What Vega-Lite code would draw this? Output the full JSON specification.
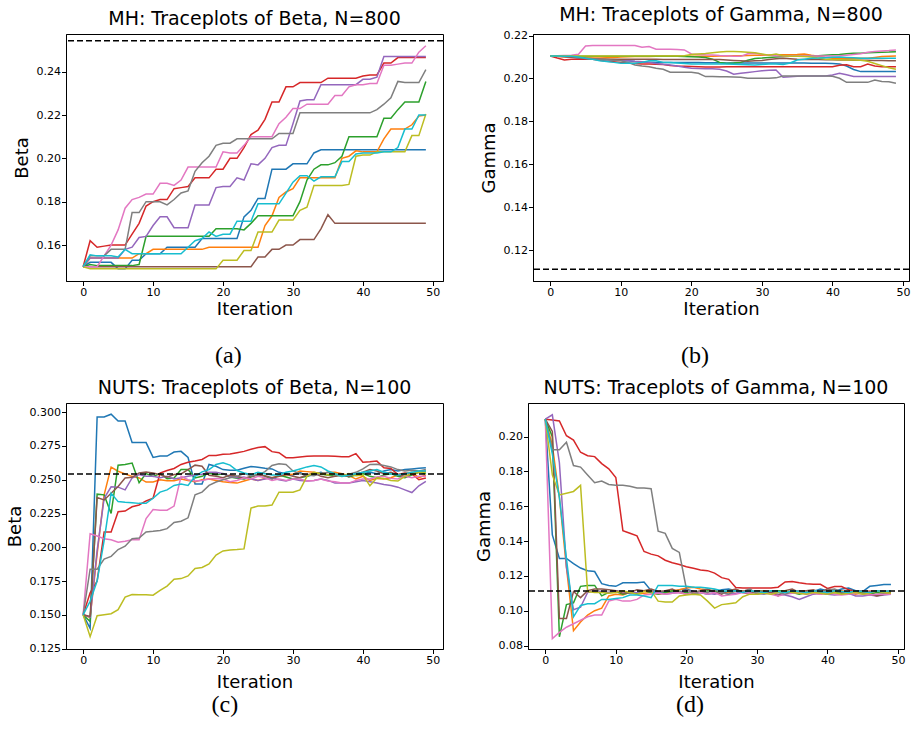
{
"$schema":"https://vega.github.io/schema/vega-lite/v6.json",
"background":"white",
"padding":{"left":5,"top":5,"right":0,"bottom":0},
"config":{
 "font":"DejaVu Sans",
 "view":{"stroke":"black","strokeWidth":1},
 "axis":{"grid":false,"domainColor":"black","tickColor":"black","labelColor":"black","titleColor":"black","labelFontSize":11,"titleFontSize":18,"titleFontWeight":"normal","tickSize":4.5,"labelPadding":1,"labelFlush":false,"labelOverlap":false,"tickCount":12},
 "axisX":{"titlePadding":3},
 "axisY":{"titlePadding":5},
 "title":{"fontSize":19,"fontWeight":"normal","color":"black"}
},
"datasets":{
"a":[
{"i":0,"a":0.15,"b":0.15,"c":0.15,"d":0.15,"e":0.15,"f":0.15,"g":0.15,"h":0.15,"k":0.15,"j":0.15},
{"i":1,"a":0.152,"b":0.154,"c":0.151,"d":0.162,"e":0.154,"f":0.15,"g":0.15,"h":0.155,"k":0.149,"j":0.1555},
{"i":2,"a":0.152,"b":0.154,"c":0.1505,"d":0.159,"e":0.154,"f":0.15,"g":0.15,"h":0.155,"k":0.149,"j":0.155},
{"i":3,"a":0.152,"b":0.154,"c":0.1505,"d":0.1595,"e":0.154,"f":0.15,"g":0.155,"h":0.155,"k":0.149,"j":0.155},
{"i":4,"a":0.152,"b":0.154,"c":0.1505,"d":0.16,"e":0.154,"f":0.15,"g":0.16,"h":0.158,"k":0.149,"j":0.155},
{"i":5,"a":0.149,"b":0.154,"c":0.1505,"d":0.16,"e":0.154,"f":0.15,"g":0.167,"h":0.158,"k":0.149,"j":0.1545},
{"i":6,"a":0.149,"b":0.154,"c":0.1505,"d":0.16,"e":0.158,"f":0.15,"g":0.177,"h":0.158,"k":0.149,"j":0.158},
{"i":7,"a":0.153,"b":0.154,"c":0.1505,"d":0.165,"e":0.159,"f":0.15,"g":0.181,"h":0.175,"k":0.149,"j":0.156},
{"i":8,"a":0.153,"b":0.156,"c":0.151,"d":0.17,"e":0.1635,"f":0.15,"g":0.182,"h":0.175,"k":0.149,"j":0.156},
{"i":9,"a":0.156,"b":0.156,"c":0.164,"d":0.178,"e":0.164,"f":0.15,"g":0.1835,"h":0.18,"k":0.149,"j":0.156},
{"i":10,"a":0.156,"b":0.158,"c":0.164,"d":0.18,"e":0.169,"f":0.15,"g":0.1835,"h":0.18,"k":0.149,"j":0.156},
{"i":11,"a":0.156,"b":0.158,"c":0.164,"d":0.181,"e":0.173,"f":0.15,"g":0.1885,"h":0.18,"k":0.149,"j":0.156},
{"i":12,"a":0.159,"b":0.158,"c":0.164,"d":0.181,"e":0.173,"f":0.15,"g":0.1885,"h":0.1785,"k":0.149,"j":0.156},
{"i":13,"a":0.159,"b":0.158,"c":0.164,"d":0.186,"e":0.168,"f":0.15,"g":0.1875,"h":0.181,"k":0.149,"j":0.156},
{"i":14,"a":0.159,"b":0.158,"c":0.164,"d":0.1865,"e":0.168,"f":0.15,"g":0.19,"h":0.184,"k":0.149,"j":0.156},
{"i":15,"a":0.159,"b":0.158,"c":0.164,"d":0.187,"e":0.168,"f":0.15,"g":0.196,"h":0.185,"k":0.149,"j":0.159},
{"i":16,"a":0.159,"b":0.158,"c":0.164,"d":0.191,"e":0.1785,"f":0.15,"g":0.196,"h":0.194,"k":0.149,"j":0.162},
{"i":17,"a":0.163,"b":0.158,"c":0.164,"d":0.191,"e":0.1785,"f":0.15,"g":0.196,"h":0.198,"k":0.149,"j":0.163},
{"i":18,"a":0.163,"b":0.159,"c":0.164,"d":0.191,"e":0.1785,"f":0.15,"g":0.196,"h":0.201,"k":0.149,"j":0.166},
{"i":19,"a":0.163,"b":0.159,"c":0.1675,"d":0.195,"e":0.1865,"f":0.15,"g":0.196,"h":0.206,"k":0.149,"j":0.164},
{"i":20,"a":0.163,"b":0.159,"c":0.1675,"d":0.195,"e":0.187,"f":0.15,"g":0.203,"h":0.207,"k":0.153,"j":0.165},
{"i":21,"a":0.163,"b":0.159,"c":0.1675,"d":0.2,"e":0.187,"f":0.15,"g":0.2025,"h":0.207,"k":0.153,"j":0.165},
{"i":22,"a":0.163,"b":0.159,"c":0.1675,"d":0.2,"e":0.191,"f":0.15,"g":0.2025,"h":0.209,"k":0.153,"j":0.171},
{"i":23,"a":0.173,"b":0.159,"c":0.167,"d":0.205,"e":0.19,"f":0.15,"g":0.206,"h":0.209,"k":0.1575,"j":0.171},
{"i":24,"a":0.176,"b":0.159,"c":0.17,"d":0.211,"e":0.1975,"f":0.15,"g":0.21,"h":0.209,"k":0.1575,"j":0.171},
{"i":25,"a":0.1815,"b":0.159,"c":0.1735,"d":0.213,"e":0.197,"f":0.1545,"g":0.21,"h":0.209,"k":0.166,"j":0.179},
{"i":26,"a":0.1815,"b":0.169,"c":0.1735,"d":0.218,"e":0.2,"f":0.1545,"g":0.21,"h":0.209,"k":0.166,"j":0.179},
{"i":27,"a":0.195,"b":0.1735,"c":0.1735,"d":0.226,"e":0.205,"f":0.158,"g":0.21,"h":0.209,"k":0.166,"j":0.179},
{"i":28,"a":0.195,"b":0.182,"c":0.1735,"d":0.226,"e":0.206,"f":0.158,"g":0.216,"h":0.2115,"k":0.1715,"j":0.179},
{"i":29,"a":0.195,"b":0.1845,"c":0.1735,"d":0.233,"e":0.206,"f":0.16,"g":0.219,"h":0.2115,"k":0.1715,"j":0.184},
{"i":30,"a":0.1975,"b":0.186,"c":0.1735,"d":0.233,"e":0.216,"f":0.16,"g":0.223,"h":0.2115,"k":0.1715,"j":0.189},
{"i":31,"a":0.1975,"b":0.191,"c":0.18,"d":0.235,"e":0.2265,"f":0.1625,"g":0.223,"h":0.221,"k":0.176,"j":0.192},
{"i":32,"a":0.1975,"b":0.191,"c":0.19,"d":0.235,"e":0.227,"f":0.1625,"g":0.225,"h":0.221,"k":0.1775,"j":0.192},
{"i":33,"a":0.2025,"b":0.191,"c":0.195,"d":0.235,"e":0.227,"f":0.1625,"g":0.225,"h":0.221,"k":0.1875,"j":0.1895},
{"i":34,"a":0.204,"b":0.191,"c":0.197,"d":0.235,"e":0.234,"f":0.1675,"g":0.225,"h":0.221,"k":0.1875,"j":0.1915},
{"i":35,"a":0.204,"b":0.191,"c":0.197,"d":0.237,"e":0.234,"f":0.174,"g":0.225,"h":0.221,"k":0.1875,"j":0.1915},
{"i":36,"a":0.204,"b":0.191,"c":0.198,"d":0.237,"e":0.234,"f":0.17,"g":0.229,"h":0.221,"k":0.1875,"j":0.1915},
{"i":37,"a":0.204,"b":0.2,"c":0.201,"d":0.237,"e":0.234,"f":0.17,"g":0.229,"h":0.221,"k":0.1875,"j":0.1985},
{"i":38,"a":0.204,"b":0.201,"c":0.21,"d":0.237,"e":0.234,"f":0.17,"g":0.233,"h":0.221,"k":0.188,"j":0.1985},
{"i":39,"a":0.204,"b":0.2035,"c":0.21,"d":0.237,"e":0.234,"f":0.17,"g":0.234,"h":0.221,"k":0.201,"j":0.202},
{"i":40,"a":0.204,"b":0.203,"c":0.21,"d":0.238,"e":0.2365,"f":0.17,"g":0.234,"h":0.221,"k":0.2015,"j":0.2025},
{"i":41,"a":0.204,"b":0.203,"c":0.21,"d":0.2385,"e":0.2365,"f":0.17,"g":0.2345,"h":0.221,"k":0.2015,"j":0.2025},
{"i":42,"a":0.204,"b":0.203,"c":0.21,"d":0.2385,"e":0.2375,"f":0.17,"g":0.2345,"h":0.2225,"k":0.203,"j":0.2025},
{"i":43,"a":0.204,"b":0.209,"c":0.2185,"d":0.244,"e":0.247,"f":0.17,"g":0.243,"h":0.225,"k":0.203,"j":0.203},
{"i":44,"a":0.204,"b":0.2135,"c":0.2185,"d":0.244,"e":0.247,"f":0.17,"g":0.243,"h":0.228,"k":0.203,"j":0.203},
{"i":45,"a":0.204,"b":0.2135,"c":0.2225,"d":0.2465,"e":0.247,"f":0.17,"g":0.2435,"h":0.2355,"k":0.203,"j":0.205},
{"i":46,"a":0.204,"b":0.2135,"c":0.226,"d":0.2465,"e":0.247,"f":0.17,"g":0.244,"h":0.235,"k":0.203,"j":0.2135},
{"i":47,"a":0.204,"b":0.2155,"c":0.226,"d":0.2465,"e":0.247,"f":0.17,"g":0.244,"h":0.235,"k":0.2105,"j":0.2135},
{"i":48,"a":0.204,"b":0.2195,"c":0.226,"d":0.2465,"e":0.247,"f":0.17,"g":0.249,"h":0.235,"k":0.2105,"j":0.22},
{"i":49,"a":0.204,"b":0.22,"c":0.2355,"d":0.2465,"e":0.247,"f":0.17,"g":0.252,"h":0.241,"k":0.2205,"j":0.22}
],
"b":[
{"i":0,"a":0.2105,"b":0.2105,"c":0.2105,"d":0.2105,"e":0.2105,"f":0.2105,"g":0.2105,"h":0.2105,"k":0.2105,"j":0.2105},
{"i":1,"a":0.2104,"b":0.2103,"c":0.2104,"d":0.2095,"e":0.2104,"f":0.2104,"g":0.2106,"h":0.2105,"k":0.2105,"j":0.2105},
{"i":2,"a":0.2103,"b":0.21,"c":0.2104,"d":0.2086,"e":0.2102,"f":0.2102,"g":0.2107,"h":0.2104,"k":0.2105,"j":0.2104},
{"i":3,"a":0.21,"b":0.2099,"c":0.2104,"d":0.2089,"e":0.2099,"f":0.2099,"g":0.2108,"h":0.2102,"k":0.2105,"j":0.2103},
{"i":4,"a":0.2097,"b":0.2098,"c":0.2104,"d":0.2089,"e":0.2096,"f":0.2096,"g":0.2113,"h":0.2098,"k":0.2105,"j":0.21},
{"i":5,"a":0.2095,"b":0.2096,"c":0.2104,"d":0.209,"e":0.2093,"f":0.2093,"g":0.2151,"h":0.2094,"k":0.2105,"j":0.2094},
{"i":6,"a":0.2093,"b":0.2095,"c":0.2103,"d":0.209,"e":0.209,"f":0.2091,"g":0.2153,"h":0.2092,"k":0.2105,"j":0.2089},
{"i":7,"a":0.209,"b":0.2095,"c":0.2103,"d":0.2085,"e":0.2089,"f":0.209,"g":0.2153,"h":0.2089,"k":0.2105,"j":0.2083},
{"i":8,"a":0.2088,"b":0.2097,"c":0.2103,"d":0.208,"e":0.2087,"f":0.209,"g":0.2153,"h":0.2087,"k":0.2105,"j":0.2079},
{"i":9,"a":0.2086,"b":0.2098,"c":0.2103,"d":0.2078,"e":0.2086,"f":0.209,"g":0.2154,"h":0.2085,"k":0.2105,"j":0.2075},
{"i":10,"a":0.2085,"b":0.21,"c":0.2103,"d":0.2075,"e":0.2085,"f":0.209,"g":0.2154,"h":0.2083,"k":0.2105,"j":0.2071},
{"i":11,"a":0.2082,"b":0.2101,"c":0.2103,"d":0.2072,"e":0.2083,"f":0.2089,"g":0.2153,"h":0.2075,"k":0.2105,"j":0.2071},
{"i":12,"a":0.2079,"b":0.2102,"c":0.2103,"d":0.207,"e":0.208,"f":0.2089,"g":0.2153,"h":0.2063,"k":0.2105,"j":0.2071},
{"i":13,"a":0.2077,"b":0.2102,"c":0.2103,"d":0.2068,"e":0.2078,"f":0.2089,"g":0.2145,"h":0.2058,"k":0.2105,"j":0.2075},
{"i":14,"a":0.2076,"b":0.2102,"c":0.2103,"d":0.2068,"e":0.2075,"f":0.2089,"g":0.2149,"h":0.2055,"k":0.2105,"j":0.2083},
{"i":15,"a":0.2075,"b":0.2103,"c":0.2103,"d":0.2066,"e":0.207,"f":0.2089,"g":0.2136,"h":0.2048,"k":0.2105,"j":0.2083},
{"i":16,"a":0.2075,"b":0.2103,"c":0.2103,"d":0.2065,"e":0.2066,"f":0.2088,"g":0.2136,"h":0.2043,"k":0.2105,"j":0.2075},
{"i":17,"a":0.2075,"b":0.2103,"c":0.2103,"d":0.206,"e":0.2063,"f":0.2088,"g":0.2136,"h":0.2029,"k":0.2105,"j":0.2074},
{"i":18,"a":0.2074,"b":0.2103,"c":0.2103,"d":0.2058,"e":0.2058,"f":0.2088,"g":0.2135,"h":0.2029,"k":0.2105,"j":0.2072},
{"i":19,"a":0.2074,"b":0.2103,"c":0.2102,"d":0.2057,"e":0.2052,"f":0.2088,"g":0.2133,"h":0.2029,"k":0.2106,"j":0.207},
{"i":20,"a":0.2074,"b":0.2103,"c":0.2101,"d":0.2056,"e":0.2048,"f":0.2088,"g":0.2114,"h":0.2029,"k":0.2112,"j":0.2068},
{"i":21,"a":0.2074,"b":0.2104,"c":0.21,"d":0.2055,"e":0.2046,"f":0.2088,"g":0.2112,"h":0.2024,"k":0.2114,"j":0.2068},
{"i":22,"a":0.2073,"b":0.2104,"c":0.2098,"d":0.2053,"e":0.2045,"f":0.2088,"g":0.211,"h":0.2009,"k":0.2116,"j":0.2068},
{"i":23,"a":0.2073,"b":0.2104,"c":0.209,"d":0.2053,"e":0.2045,"f":0.2088,"g":0.2109,"h":0.2009,"k":0.212,"j":0.2068},
{"i":24,"a":0.2073,"b":0.2105,"c":0.2075,"d":0.2053,"e":0.2043,"f":0.2088,"g":0.2107,"h":0.2008,"k":0.2123,"j":0.2068},
{"i":25,"a":0.2072,"b":0.2105,"c":0.207,"d":0.2055,"e":0.2035,"f":0.2086,"g":0.2106,"h":0.2008,"k":0.2126,"j":0.2067},
{"i":26,"a":0.2072,"b":0.2106,"c":0.2072,"d":0.2055,"e":0.202,"f":0.2084,"g":0.2103,"h":0.2007,"k":0.2126,"j":0.2066},
{"i":27,"a":0.2072,"b":0.2106,"c":0.2075,"d":0.2055,"e":0.2024,"f":0.2082,"g":0.2103,"h":0.2006,"k":0.2124,"j":0.2065},
{"i":28,"a":0.2072,"b":0.2107,"c":0.2085,"d":0.2055,"e":0.2028,"f":0.208,"g":0.2115,"h":0.2001,"k":0.2122,"j":0.2064},
{"i":29,"a":0.2072,"b":0.2108,"c":0.2093,"d":0.2055,"e":0.2032,"f":0.2082,"g":0.2117,"h":0.2001,"k":0.212,"j":0.2063},
{"i":30,"a":0.2072,"b":0.2108,"c":0.2095,"d":0.2055,"e":0.2036,"f":0.2084,"g":0.2112,"h":0.2001,"k":0.2114,"j":0.2065},
{"i":31,"a":0.2072,"b":0.2109,"c":0.2098,"d":0.2055,"e":0.2038,"f":0.2088,"g":0.2108,"h":0.2001,"k":0.2108,"j":0.2068},
{"i":32,"a":0.2072,"b":0.211,"c":0.21,"d":0.2055,"e":0.204,"f":0.2092,"g":0.2106,"h":0.2003,"k":0.2114,"j":0.2067},
{"i":33,"a":0.2072,"b":0.211,"c":0.2102,"d":0.2055,"e":0.2006,"f":0.2094,"g":0.2105,"h":0.2012,"k":0.2106,"j":0.2065},
{"i":34,"a":0.2072,"b":0.2111,"c":0.2104,"d":0.2055,"e":0.2008,"f":0.2092,"g":0.2105,"h":0.2012,"k":0.2103,"j":0.2072},
{"i":35,"a":0.2072,"b":0.2112,"c":0.2104,"d":0.2055,"e":0.2011,"f":0.2089,"g":0.2105,"h":0.2012,"k":0.2104,"j":0.2086},
{"i":36,"a":0.2072,"b":0.2114,"c":0.2104,"d":0.2055,"e":0.2012,"f":0.2088,"g":0.2105,"h":0.2012,"k":0.2102,"j":0.209},
{"i":37,"a":0.2071,"b":0.2108,"c":0.2105,"d":0.2055,"e":0.2012,"f":0.2088,"g":0.2105,"h":0.2012,"k":0.21,"j":0.2094},
{"i":38,"a":0.2071,"b":0.2103,"c":0.2106,"d":0.2055,"e":0.2012,"f":0.2088,"g":0.2105,"h":0.2012,"k":0.2095,"j":0.2095},
{"i":39,"a":0.2071,"b":0.2098,"c":0.2108,"d":0.2055,"e":0.2012,"f":0.2087,"g":0.2105,"h":0.2012,"k":0.209,"j":0.2097},
{"i":40,"a":0.207,"b":0.2094,"c":0.211,"d":0.2055,"e":0.2016,"f":0.2087,"g":0.2105,"h":0.201,"k":0.2088,"j":0.2099},
{"i":41,"a":0.2068,"b":0.2094,"c":0.2112,"d":0.2062,"e":0.2024,"f":0.2086,"g":0.2106,"h":0.2001,"k":0.2087,"j":0.21},
{"i":42,"a":0.2058,"b":0.2094,"c":0.2115,"d":0.2064,"e":0.2017,"f":0.2086,"g":0.2108,"h":0.1982,"k":0.2086,"j":0.2098},
{"i":43,"a":0.2042,"b":0.2094,"c":0.2117,"d":0.2055,"e":0.2009,"f":0.2085,"g":0.2112,"h":0.1982,"k":0.2086,"j":0.2096},
{"i":44,"a":0.2032,"b":0.2094,"c":0.2118,"d":0.2055,"e":0.2009,"f":0.2085,"g":0.2115,"h":0.1982,"k":0.2085,"j":0.2094},
{"i":45,"a":0.2032,"b":0.2094,"c":0.212,"d":0.2067,"e":0.2009,"f":0.2085,"g":0.2122,"h":0.1982,"k":0.208,"j":0.2094},
{"i":46,"a":0.2032,"b":0.2098,"c":0.2121,"d":0.2058,"e":0.2009,"f":0.2084,"g":0.2126,"h":0.1993,"k":0.207,"j":0.2094},
{"i":47,"a":0.2032,"b":0.2102,"c":0.2122,"d":0.2055,"e":0.2009,"f":0.2084,"g":0.2128,"h":0.1986,"k":0.206,"j":0.2094},
{"i":48,"a":0.2032,"b":0.2104,"c":0.2123,"d":0.2055,"e":0.2009,"f":0.2083,"g":0.213,"h":0.1985,"k":0.205,"j":0.2094},
{"i":49,"a":0.2032,"b":0.2105,"c":0.2125,"d":0.2055,"e":0.2009,"f":0.2083,"g":0.2133,"h":0.1978,"k":0.2043,"j":0.2094}
],
"c":[
{"i":0,"a":0.15,"b":0.15,"c":0.15,"d":0.15,"e":0.15,"f":0.15,"g":0.15,"h":0.15,"k":0.15,"j":0.15},
{"i":1,"a":0.14,"b":0.148,"c":0.145,"d":0.1663,"e":0.1483,"f":0.1488,"g":0.21,"h":0.1838,"k":0.1338,"j":0.16},
{"i":2,"a":0.2965,"b":0.195,"c":0.2393,"d":0.175,"e":0.1975,"f":0.2368,"g":0.2083,"h":0.1838,"k":0.1493,"j":0.175},
{"i":3,"a":0.2965,"b":0.2388,"c":0.2388,"d":0.2113,"e":0.2363,"f":0.235,"g":0.2063,"h":0.1913,"k":0.15,"j":0.205},
{"i":4,"a":0.2985,"b":0.2593,"c":0.225,"d":0.2113,"e":0.2448,"f":0.24,"g":0.2055,"h":0.1933,"k":0.1508,"j":0.24},
{"i":5,"a":0.2935,"b":0.2563,"c":0.2608,"d":0.2263,"e":0.2445,"f":0.245,"g":0.2038,"h":0.1983,"k":0.1538,"j":0.2338},
{"i":6,"a":0.2935,"b":0.2543,"c":0.2613,"d":0.2268,"e":0.2425,"f":0.2513,"g":0.2045,"h":0.2008,"k":0.1631,"j":0.2333},
{"i":7,"a":0.2775,"b":0.2525,"c":0.2623,"d":0.23,"e":0.2513,"f":0.2518,"g":0.2055,"h":0.2063,"k":0.165,"j":0.233},
{"i":8,"a":0.2775,"b":0.2513,"c":0.2478,"d":0.2313,"e":0.2538,"f":0.255,"g":0.2055,"h":0.2068,"k":0.1648,"j":0.2325},
{"i":9,"a":0.2775,"b":0.2483,"c":0.2545,"d":0.2343,"e":0.2525,"f":0.2558,"g":0.2213,"h":0.2113,"k":0.1648,"j":0.2325},
{"i":10,"a":0.2665,"b":0.2483,"c":0.2525,"d":0.2363,"e":0.2525,"f":0.255,"g":0.228,"h":0.2118,"k":0.1645,"j":0.2363},
{"i":11,"a":0.2675,"b":0.25,"c":0.2545,"d":0.255,"e":0.2515,"f":0.2538,"g":0.2275,"h":0.2125,"k":0.1681,"j":0.2408},
{"i":12,"a":0.2675,"b":0.2493,"c":0.2508,"d":0.2568,"e":0.2525,"f":0.2518,"g":0.2275,"h":0.2138,"k":0.1713,"j":0.2425},
{"i":13,"a":0.2705,"b":0.2493,"c":0.2513,"d":0.2583,"e":0.2505,"f":0.2538,"g":0.2305,"h":0.2183,"k":0.1763,"j":0.2458},
{"i":14,"a":0.271,"b":0.2505,"c":0.2575,"d":0.2613,"e":0.2515,"f":0.2543,"g":0.2525,"h":0.2193,"k":0.1768,"j":0.2468},
{"i":15,"a":0.2665,"b":0.2495,"c":0.2575,"d":0.263,"e":0.2525,"f":0.2575,"g":0.25,"h":0.2218,"k":0.1788,"j":0.2458},
{"i":16,"a":0.2468,"b":0.2485,"c":0.2513,"d":0.2638,"e":0.2535,"f":0.2608,"g":0.249,"h":0.2388,"k":0.1843,"j":0.2525},
{"i":17,"a":0.2468,"b":0.25,"c":0.2525,"d":0.265,"e":0.254,"f":0.26,"g":0.2495,"h":0.2408,"k":0.185,"j":0.2558},
{"i":18,"a":0.2613,"b":0.2505,"c":0.255,"d":0.268,"e":0.2555,"f":0.2533,"g":0.2505,"h":0.2458,"k":0.1876,"j":0.2575},
{"i":19,"a":0.26,"b":0.2495,"c":0.2535,"d":0.268,"e":0.2555,"f":0.2525,"g":0.251,"h":0.2483,"k":0.1943,"j":0.2613},
{"i":20,"a":0.2575,"b":0.2485,"c":0.2545,"d":0.2688,"e":0.2545,"f":0.2515,"g":0.2505,"h":0.25,"k":0.1973,"j":0.2625},
{"i":21,"a":0.257,"b":0.248,"c":0.252,"d":0.269,"e":0.2525,"f":0.2535,"g":0.2485,"h":0.2515,"k":0.198,"j":0.2608},
{"i":22,"a":0.257,"b":0.2475,"c":0.251,"d":0.27,"e":0.2515,"f":0.2525,"g":0.2495,"h":0.2525,"k":0.1983,"j":0.2568},
{"i":23,"a":0.2585,"b":0.249,"c":0.2505,"d":0.271,"e":0.252,"f":0.251,"g":0.2515,"h":0.2545,"k":0.1988,"j":0.255},
{"i":24,"a":0.2598,"b":0.2505,"c":0.252,"d":0.2725,"e":0.2505,"f":0.2525,"g":0.2505,"h":0.253,"k":0.229,"j":0.2538},
{"i":25,"a":0.2593,"b":0.2495,"c":0.254,"d":0.2738,"e":0.2495,"f":0.2535,"g":0.2525,"h":0.2535,"k":0.2305,"j":0.2555},
{"i":26,"a":0.2585,"b":0.251,"c":0.2525,"d":0.2745,"e":0.2505,"f":0.253,"g":0.2515,"h":0.256,"k":0.2305,"j":0.2545},
{"i":27,"a":0.258,"b":0.2515,"c":0.2505,"d":0.2708,"e":0.2515,"f":0.2515,"g":0.2495,"h":0.2605,"k":0.2313,"j":0.2535},
{"i":28,"a":0.2555,"b":0.2525,"c":0.2535,"d":0.27,"e":0.25,"f":0.2525,"g":0.2505,"h":0.2618,"k":0.2408,"j":0.2535},
{"i":29,"a":0.2545,"b":0.2535,"c":0.252,"d":0.2663,"e":0.249,"f":0.254,"g":0.2495,"h":0.2613,"k":0.2408,"j":0.2555},
{"i":30,"a":0.2535,"b":0.254,"c":0.2505,"d":0.2663,"e":0.2505,"f":0.2525,"g":0.2505,"h":0.2565,"k":0.2408,"j":0.2565},
{"i":31,"a":0.2555,"b":0.2565,"c":0.2515,"d":0.2668,"e":0.2495,"f":0.2515,"g":0.2505,"h":0.2545,"k":0.2425,"j":0.258},
{"i":32,"a":0.2525,"b":0.256,"c":0.2525,"d":0.2673,"e":0.249,"f":0.2535,"g":0.249,"h":0.2535,"k":0.2525,"j":0.2595},
{"i":33,"a":0.254,"b":0.2555,"c":0.2545,"d":0.2675,"e":0.2495,"f":0.255,"g":0.2495,"h":0.253,"k":0.2555,"j":0.2605},
{"i":34,"a":0.2555,"b":0.2545,"c":0.254,"d":0.2675,"e":0.2505,"f":0.2525,"g":0.2505,"h":0.2545,"k":0.2545,"j":0.2595},
{"i":35,"a":0.2535,"b":0.2555,"c":0.2535,"d":0.2675,"e":0.2495,"f":0.2515,"g":0.249,"h":0.2555,"k":0.2535,"j":0.2565},
{"i":36,"a":0.2545,"b":0.2555,"c":0.2525,"d":0.2673,"e":0.2475,"f":0.2525,"g":0.2485,"h":0.2535,"k":0.2545,"j":0.2545},
{"i":37,"a":0.2535,"b":0.2545,"c":0.254,"d":0.267,"e":0.2475,"f":0.2535,"g":0.2475,"h":0.2525,"k":0.2525,"j":0.2525},
{"i":38,"a":0.2525,"b":0.253,"c":0.252,"d":0.267,"e":0.2475,"f":0.2525,"g":0.2475,"h":0.254,"k":0.2545,"j":0.2535},
{"i":39,"a":0.2545,"b":0.2505,"c":0.2535,"d":0.2693,"e":0.2485,"f":0.2545,"g":0.2495,"h":0.2555,"k":0.253,"j":0.2545},
{"i":40,"a":0.2545,"b":0.2525,"c":0.2545,"d":0.263,"e":0.2495,"f":0.2555,"g":0.2505,"h":0.258,"k":0.2535,"j":0.2555},
{"i":41,"a":0.2555,"b":0.2495,"c":0.2525,"d":0.2633,"e":0.2485,"f":0.2575,"g":0.2505,"h":0.2613,"k":0.2455,"j":0.2565},
{"i":42,"a":0.2545,"b":0.251,"c":0.2515,"d":0.2638,"e":0.2475,"f":0.2565,"g":0.252,"h":0.2615,"k":0.2515,"j":0.2575},
{"i":43,"a":0.2565,"b":0.2505,"c":0.2535,"d":0.2588,"e":0.2465,"f":0.2545,"g":0.2525,"h":0.2605,"k":0.251,"j":0.2555},
{"i":44,"a":0.2575,"b":0.2515,"c":0.2545,"d":0.2583,"e":0.2458,"f":0.2555,"g":0.251,"h":0.2595,"k":0.2495,"j":0.2545},
{"i":45,"a":0.2565,"b":0.2535,"c":0.2525,"d":0.2538,"e":0.2445,"f":0.2535,"g":0.2505,"h":0.2575,"k":0.249,"j":0.2535},
{"i":46,"a":0.2575,"b":0.2545,"c":0.2515,"d":0.255,"e":0.2425,"f":0.2525,"g":0.2525,"h":0.2565,"k":0.2525,"j":0.2545},
{"i":47,"a":0.258,"b":0.2555,"c":0.2535,"d":0.2543,"e":0.2405,"f":0.2545,"g":0.2515,"h":0.257,"k":0.2545,"j":0.2555},
{"i":48,"a":0.2585,"b":0.2515,"c":0.2555,"d":0.25,"e":0.2455,"f":0.2555,"g":0.2525,"h":0.2565,"k":0.2555,"j":0.2565},
{"i":49,"a":0.2588,"b":0.2535,"c":0.2545,"d":0.2513,"e":0.2488,"f":0.2565,"g":0.2525,"h":0.2575,"k":0.2555,"j":0.2565}
],
"d":[
{"i":0,"a":0.21,"b":0.21,"c":0.21,"d":0.21,"e":0.21,"f":0.21,"g":0.21,"h":0.21,"k":0.21,"j":0.21},
{"i":1,"a":0.1435,"b":0.195,"c":0.2,"d":0.2095,"e":0.2125,"f":0.203,"g":0.084,"h":0.1925,"k":0.178,"j":0.19},
{"i":2,"a":0.13,"b":0.165,"c":0.085,"d":0.209,"e":0.185,"f":0.0955,"g":0.0875,"h":0.1925,"k":0.1665,"j":0.165},
{"i":3,"a":0.13,"b":0.125,"c":0.1035,"d":0.2005,"e":0.125,"f":0.0955,"g":0.0905,"h":0.1968,"k":0.1675,"j":0.13},
{"i":4,"a":0.127,"b":0.0885,"c":0.1045,"d":0.198,"e":0.1005,"f":0.111,"g":0.0925,"h":0.1834,"k":0.1685,"j":0.0965},
{"i":5,"a":0.1245,"b":0.0935,"c":0.114,"d":0.191,"e":0.102,"f":0.1075,"g":0.0945,"h":0.1825,"k":0.172,"j":0.103},
{"i":6,"a":0.123,"b":0.0975,"c":0.1145,"d":0.189,"e":0.1105,"f":0.1115,"g":0.0965,"h":0.178,"k":0.111,"j":0.104},
{"i":7,"a":0.1225,"b":0.1,"c":0.1145,"d":0.1885,"e":0.1115,"f":0.1125,"g":0.0975,"h":0.1735,"k":0.1105,"j":0.104},
{"i":8,"a":0.1155,"b":0.1015,"c":0.1085,"d":0.1845,"e":0.111,"f":0.1125,"g":0.0975,"h":0.1745,"k":0.1105,"j":0.1065},
{"i":9,"a":0.1145,"b":0.1085,"c":0.1105,"d":0.1815,"e":0.1105,"f":0.112,"g":0.1055,"h":0.1725,"k":0.11,"j":0.1065},
{"i":10,"a":0.114,"b":0.1095,"c":0.111,"d":0.1765,"e":0.1115,"f":0.1115,"g":0.1065,"h":0.172,"k":0.1105,"j":0.107},
{"i":11,"a":0.116,"b":0.109,"c":0.1095,"d":0.146,"e":0.111,"f":0.11,"g":0.1055,"h":0.172,"k":0.1115,"j":0.1075},
{"i":12,"a":0.116,"b":0.1105,"c":0.1105,"d":0.1445,"e":0.11,"f":0.1105,"g":0.1055,"h":0.1715,"k":0.1105,"j":0.109},
{"i":13,"a":0.116,"b":0.1095,"c":0.11,"d":0.143,"e":0.1105,"f":0.112,"g":0.1065,"h":0.1705,"k":0.1095,"j":0.109},
{"i":14,"a":0.1165,"b":0.11,"c":0.1115,"d":0.134,"e":0.1115,"f":0.1115,"g":0.109,"h":0.1705,"k":0.111,"j":0.1085},
{"i":15,"a":0.1115,"b":0.1105,"c":0.1105,"d":0.1325,"e":0.111,"f":0.1125,"g":0.1095,"h":0.1701,"k":0.1115,"j":0.1075},
{"i":16,"a":0.1105,"b":0.1095,"c":0.1095,"d":0.1315,"e":0.1105,"f":0.111,"g":0.11,"h":0.1457,"k":0.1055,"j":0.1145},
{"i":17,"a":0.111,"b":0.11,"c":0.1105,"d":0.129,"e":0.1095,"f":0.1115,"g":0.1095,"h":0.1444,"k":0.105,"j":0.1145},
{"i":18,"a":0.1105,"b":0.1115,"c":0.1115,"d":0.1275,"e":0.11,"f":0.1125,"g":0.11,"h":0.1358,"k":0.105,"j":0.1145},
{"i":19,"a":0.112,"b":0.112,"c":0.111,"d":0.1265,"e":0.1105,"f":0.1105,"g":0.1105,"h":0.1335,"k":0.1085,"j":0.114},
{"i":20,"a":0.1125,"b":0.113,"c":0.1105,"d":0.1253,"e":0.1115,"f":0.1095,"g":0.1095,"h":0.1126,"k":0.109,"j":0.114},
{"i":21,"a":0.111,"b":0.1135,"c":0.1095,"d":0.1244,"e":0.111,"f":0.1105,"g":0.11,"h":0.1095,"k":0.1095,"j":0.1135},
{"i":22,"a":0.1105,"b":0.1125,"c":0.1105,"d":0.1234,"e":0.1105,"f":0.1115,"g":0.1105,"h":0.1115,"k":0.109,"j":0.1135},
{"i":23,"a":0.1095,"b":0.112,"c":0.1115,"d":0.123,"e":0.11,"f":0.1125,"g":0.1095,"h":0.1105,"k":0.1055,"j":0.113},
{"i":24,"a":0.1105,"b":0.1115,"c":0.111,"d":0.1216,"e":0.1095,"f":0.1105,"g":0.1105,"h":0.112,"k":0.1015,"j":0.1125},
{"i":25,"a":0.112,"b":0.111,"c":0.1105,"d":0.119,"e":0.1105,"f":0.1095,"g":0.1085,"h":0.1105,"k":0.1035,"j":0.1115},
{"i":26,"a":0.1125,"b":0.1105,"c":0.1115,"d":0.118,"e":0.1095,"f":0.1115,"g":0.109,"h":0.1095,"k":0.104,"j":0.111},
{"i":27,"a":0.1115,"b":0.111,"c":0.112,"d":0.1133,"e":0.11,"f":0.1125,"g":0.1095,"h":0.1115,"k":0.1045,"j":0.1115},
{"i":28,"a":0.111,"b":0.1115,"c":0.111,"d":0.113,"e":0.111,"f":0.1105,"g":0.1105,"h":0.111,"k":0.108,"j":0.1105},
{"i":29,"a":0.1105,"b":0.111,"c":0.1105,"d":0.113,"e":0.1105,"f":0.1095,"g":0.11,"h":0.1125,"k":0.1095,"j":0.1115},
{"i":30,"a":0.1115,"b":0.1105,"c":0.1115,"d":0.113,"e":0.11,"f":0.1115,"g":0.1095,"h":0.1095,"k":0.1095,"j":0.111},
{"i":31,"a":0.1105,"b":0.1115,"c":0.111,"d":0.113,"e":0.1095,"f":0.111,"g":0.1105,"h":0.1105,"k":0.11,"j":0.1105},
{"i":32,"a":0.111,"b":0.1105,"c":0.1105,"d":0.113,"e":0.1105,"f":0.1105,"g":0.1095,"h":0.1115,"k":0.1095,"j":0.1115},
{"i":33,"a":0.1115,"b":0.111,"c":0.1115,"d":0.1135,"e":0.1095,"f":0.1085,"g":0.1085,"h":0.1105,"k":0.1105,"j":0.111},
{"i":34,"a":0.111,"b":0.1115,"c":0.111,"d":0.1165,"e":0.109,"f":0.1115,"g":0.1095,"h":0.1095,"k":0.1115,"j":0.1105},
{"i":35,"a":0.1105,"b":0.1105,"c":0.1105,"d":0.1168,"e":0.108,"f":0.1125,"g":0.11,"h":0.111,"k":0.1105,"j":0.1115},
{"i":36,"a":0.111,"b":0.111,"c":0.1095,"d":0.116,"e":0.1065,"f":0.1105,"g":0.1105,"h":0.1115,"k":0.11,"j":0.111},
{"i":37,"a":0.1115,"b":0.1115,"c":0.1105,"d":0.1155,"e":0.108,"f":0.1115,"g":0.1095,"h":0.1105,"k":0.1095,"j":0.1105},
{"i":38,"a":0.111,"b":0.1105,"c":0.111,"d":0.1152,"e":0.1095,"f":0.112,"g":0.11,"h":0.1115,"k":0.1105,"j":0.1115},
{"i":39,"a":0.1125,"b":0.1095,"c":0.1105,"d":0.1152,"e":0.11,"f":0.1105,"g":0.1095,"h":0.1105,"k":0.11,"j":0.111},
{"i":40,"a":0.1115,"b":0.1105,"c":0.1095,"d":0.1128,"e":0.1095,"f":0.1125,"g":0.1105,"h":0.1115,"k":0.1095,"j":0.1105},
{"i":41,"a":0.111,"b":0.111,"c":0.1105,"d":0.1139,"e":0.109,"f":0.112,"g":0.1095,"h":0.1125,"k":0.1105,"j":0.1115},
{"i":42,"a":0.1125,"b":0.1115,"c":0.11,"d":0.1139,"e":0.1095,"f":0.1105,"g":0.109,"h":0.111,"k":0.1095,"j":0.111},
{"i":43,"a":0.113,"b":0.1105,"c":0.1095,"d":0.112,"e":0.11,"f":0.1095,"g":0.1095,"h":0.1105,"k":0.11,"j":0.1105},
{"i":44,"a":0.1115,"b":0.1095,"c":0.1105,"d":0.1112,"e":0.1085,"f":0.1105,"g":0.11,"h":0.1115,"k":0.1105,"j":0.1115},
{"i":45,"a":0.111,"b":0.1105,"c":0.11,"d":0.1111,"e":0.1085,"f":0.1115,"g":0.1095,"h":0.111,"k":0.1095,"j":0.111},
{"i":46,"a":0.114,"b":0.111,"c":0.1095,"d":0.1111,"e":0.109,"f":0.1095,"g":0.109,"h":0.1105,"k":0.11,"j":0.1105},
{"i":47,"a":0.1145,"b":0.1105,"c":0.1105,"d":0.1111,"e":0.1085,"f":0.1085,"g":0.1095,"h":0.1115,"k":0.1115,"j":0.1115},
{"i":48,"a":0.115,"b":0.11,"c":0.11,"d":0.1111,"e":0.109,"f":0.1095,"g":0.1095,"h":0.1105,"k":0.1105,"j":0.111},
{"i":49,"a":0.115,"b":0.1105,"c":0.1105,"d":0.1111,"e":0.1095,"f":0.1105,"g":0.1095,"h":0.1115,"k":0.11,"j":0.1115}
]
},
"vconcat":[
{"hconcat":[
 {"title":{"text":"(a)","orient":"bottom","anchor":"middle","frame":"bounds","font":"Liberation Serif","fontSize":24,"fontWeight":"normal","offset":25},
  "vconcat":[{"width":377,"height":247,
   "title":{"text":"MH: Traceplots of Beta, N=800","anchor":"middle","frame":"group","offset":5},
   "layer":[
    {"data":{"name":"a"},"transform":[{"fold":["a","b","c","d","e","f","g","h","k","j"],"as":["s","v"]}],
     "mark":{"type":"line","strokeWidth":1.5},
     "encoding":{
      "x":{"field":"i","type":"quantitative","scale":{"domain":[-2.45,51.45],"nice":false,"zero":false},"axis":{"values":[0,10,20,30,40,50],"title":"Iteration"}},
      "y":{"field":"v","type":"quantitative","scale":{"domain":[0.1434,0.2574],"nice":false,"zero":false},"axis":{"values":[0.16,0.18,0.2,0.22,0.24],"format":".2f","title":"Beta"}},
      "color":{"field":"s","type":"nominal","scale":{"domain":["a","b","c","d","e","f","g","h","k","j"],"range":["#1f77b4","#ff7f0e","#2ca02c","#d62728","#9467bd","#8c564b","#e377c2","#7f7f7f","#bcbd22","#17becf"]},"legend":null}}},
    {"data":{"values":[{"t":0.2543}]},"mark":{"type":"rule","strokeDash":[6,3],"strokeWidth":1.5,"color":"black"},"encoding":{"y":{"field":"t","type":"quantitative"}}}
   ]}]},
 {"title":{"text":"(b)","orient":"bottom","anchor":"middle","frame":"bounds","font":"Liberation Serif","fontSize":24,"fontWeight":"normal","offset":25},
  "vconcat":[{"width":376,"height":247,
   "title":{"text":"MH: Traceplots of Gamma, N=800","anchor":"middle","frame":"group","offset":5},
   "layer":[
    {"data":{"name":"b"},"transform":[{"fold":["a","b","c","d","e","f","g","h","k","j"],"as":["s","v"]}],
     "mark":{"type":"line","strokeWidth":1.5},
     "encoding":{
      "x":{"field":"i","type":"quantitative","scale":{"domain":[-2.45,50.85],"nice":false,"zero":false},"axis":{"values":[0,10,20,30,40,50],"title":"Iteration"}},
      "y":{"field":"v","type":"quantitative","scale":{"domain":[0.1058,0.2207],"nice":false,"zero":false},"axis":{"values":[0.12,0.14,0.16,0.18,0.2,0.22],"format":".2f","title":"Gamma"}},
      "color":{"field":"s","type":"nominal","scale":{"domain":["a","b","c","d","e","f","g","h","k","j"],"range":["#1f77b4","#ff7f0e","#2ca02c","#d62728","#9467bd","#8c564b","#e377c2","#7f7f7f","#bcbd22","#17becf"]},"legend":null}}},
    {"data":{"values":[{"t":0.1113}]},"mark":{"type":"rule","strokeDash":[6,3],"strokeWidth":1.5,"color":"black"},"encoding":{"y":{"field":"t","type":"quantitative"}}}
   ]}]}
 ],"spacing":34},
{"hconcat":[
 {"title":{"text":"(c)","orient":"bottom","anchor":"middle","frame":"bounds","font":"Liberation Serif","fontSize":24,"fontWeight":"normal","offset":1},
  "vconcat":[{"width":377,"height":246,
   "title":{"text":"NUTS: Traceplots of Beta, N=100","anchor":"middle","frame":"group","offset":5},
   "layer":[
    {"data":{"name":"c"},"transform":[{"fold":["a","b","c","d","e","f","g","h","k","j"],"as":["s","v"]}],
     "mark":{"type":"line","strokeWidth":1.5},
     "encoding":{
      "x":{"field":"i","type":"quantitative","scale":{"domain":[-2.45,51.45],"nice":false,"zero":false},"axis":{"values":[0,10,20,30,40,50],"title":"Iteration","titlePadding":8}},
      "y":{"field":"v","type":"quantitative","scale":{"domain":[0.1247,0.3068],"nice":false,"zero":false},"axis":{"values":[0.125,0.15,0.175,0.2,0.225,0.25,0.275,0.3],"tickCount":12,"format":".3f","title":"Beta"}},
      "color":{"field":"s","type":"nominal","scale":{"domain":["a","b","c","d","e","f","g","h","k","j"],"range":["#1f77b4","#ff7f0e","#2ca02c","#d62728","#9467bd","#8c564b","#e377c2","#7f7f7f","#bcbd22","#17becf"]},"legend":null}}},
    {"data":{"values":[{"t":0.2543}]},"mark":{"type":"rule","strokeDash":[6,3],"strokeWidth":1.5,"color":"black"},"encoding":{"y":{"field":"t","type":"quantitative"}}}
   ]}]},
 {"title":{"text":"(d)","orient":"bottom","anchor":"middle","frame":"bounds","font":"Liberation Serif","fontSize":24,"fontWeight":"normal","offset":1},
  "vconcat":[{"width":376,"height":246,
   "title":{"text":"NUTS: Traceplots of Gamma, N=100","anchor":"middle","frame":"group","offset":5},
   "layer":[
    {"data":{"name":"d"},"transform":[{"fold":["a","b","c","d","e","f","g","h","k","j"],"as":["s","v"]}],
     "mark":{"type":"line","strokeWidth":1.5},
     "encoding":{
      "x":{"field":"i","type":"quantitative","scale":{"domain":[-2.45,50.85],"nice":false,"zero":false},"axis":{"values":[0,10,20,30,40,50],"title":"Iteration","titlePadding":8}},
      "y":{"field":"v","type":"quantitative","scale":{"domain":[0.078,0.2193],"nice":false,"zero":false},"axis":{"values":[0.08,0.1,0.12,0.14,0.16,0.18,0.2],"format":".2f","title":"Gamma"}},
      "color":{"field":"s","type":"nominal","scale":{"domain":["a","b","c","d","e","f","g","h","k","j"],"range":["#1f77b4","#ff7f0e","#2ca02c","#d62728","#9467bd","#8c564b","#e377c2","#7f7f7f","#bcbd22","#17becf"]},"legend":null}}},
    {"data":{"values":[{"t":0.1113}]},"mark":{"type":"rule","strokeDash":[6,3],"strokeWidth":1.5,"color":"black"},"encoding":{"y":{"field":"t","type":"quantitative"}}}
   ]}]}
 ],"spacing":29}
],
"spacing":10
}
